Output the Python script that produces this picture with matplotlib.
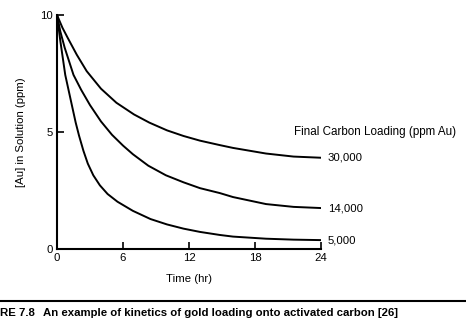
import numpy as np
import matplotlib
matplotlib.use('Agg')
import matplotlib.pyplot as plt

plt.rcParams['font.family'] = ['Liberation Sans', 'DejaVu Sans']

# curves (time in hr, [Au] in ppm)
t_30000 = [0, 0.5, 1, 1.8, 2.7, 4, 5.4, 7, 8.4, 10, 11.5, 13, 14.8, 16, 19, 21.5, 24]
y_30000 = [10, 9.45, 9.0, 8.3, 7.6, 6.85, 6.25, 5.75, 5.4, 5.07, 4.83, 4.63, 4.44, 4.32, 4.08, 3.95, 3.9]

t_14000 = [0, 0.3, 0.7, 1.5, 2.2, 3.0, 4.0, 5.0, 6.0, 6.9, 8.3, 9.9, 11.5, 13, 14.8, 16, 19, 21.5, 24]
y_14000 = [10, 9.3, 8.6, 7.44, 6.8, 6.15, 5.45, 4.88, 4.42, 4.05, 3.56, 3.15, 2.85, 2.6, 2.39, 2.22, 1.92, 1.8, 1.75]

t_5000 = [0, 0.3, 0.75, 1.35, 1.7, 2.0, 2.4, 2.8, 3.3, 3.9, 4.6, 5.5, 6.9, 8.5, 10, 11.5, 13, 14.8, 16, 19, 21.5, 24]
y_5000 = [10, 8.9, 7.44, 6.15, 5.4, 4.85, 4.2, 3.65, 3.15, 2.72, 2.35, 2.02, 1.63, 1.28, 1.05, 0.87, 0.73, 0.6, 0.53, 0.44, 0.4, 0.38]

labels = ['30,000', '14,000', '5,000']
xticks = [0, 6, 12, 18, 24]
yticks = [0, 5, 10]

fig = plt.figure(figsize=(4.66, 3.28), dpi=100)
ax = fig.add_axes([57/466, 1 - 249/328, (321 - 57)/466, (249 - 15)/328])

series = [(t_30000, y_30000), (t_14000, y_14000), (t_5000, y_5000)]
for (t, y), lab in zip(series, labels):
    ax.plot(t, y, color='black', linewidth=1.4, solid_joinstyle='round')
    ax.text(24.6, y[-1], lab, fontsize=8.2, va='center', ha='left')

ax.text(21.5, 5.0, 'Final Carbon Loading (ppm Au)', fontsize=8.4,
        va='center', ha='left')

ax.set_xlim(0, 24)
ax.set_ylim(0, 10)
ax.set_xticks(xticks)
ax.set_yticks(yticks)
ax.tick_params(direction='in', length=5, width=1.2, labelsize=8.2, pad=3)
for side in ['top', 'right']:
    ax.spines[side].set_visible(False)
for side in ['left', 'bottom']:
    ax.spines[side].set_linewidth(1.5)
ax.set_xlabel('Time (hr)', fontsize=8.2, labelpad=8)
ax.set_ylabel('[Au] in Solution (ppm)', fontsize=8.2, labelpad=10)

# caption rule and text
fig.add_artist(plt.Line2D([0, 1], [1 - 301/328, 1 - 301/328],
                          color='black', linewidth=1.5))
fig.text(0.0, 1 - 313/328, 'RE 7.8', fontsize=8.2, fontweight='bold',
         va='center', ha='left')
fig.text(43/466, 1 - 313/328,
         'An example of kinetics of gold loading onto activated carbon [26]',
         fontsize=8.2, fontweight='bold', va='center', ha='left')

fig.savefig('out.png', dpi=100)
